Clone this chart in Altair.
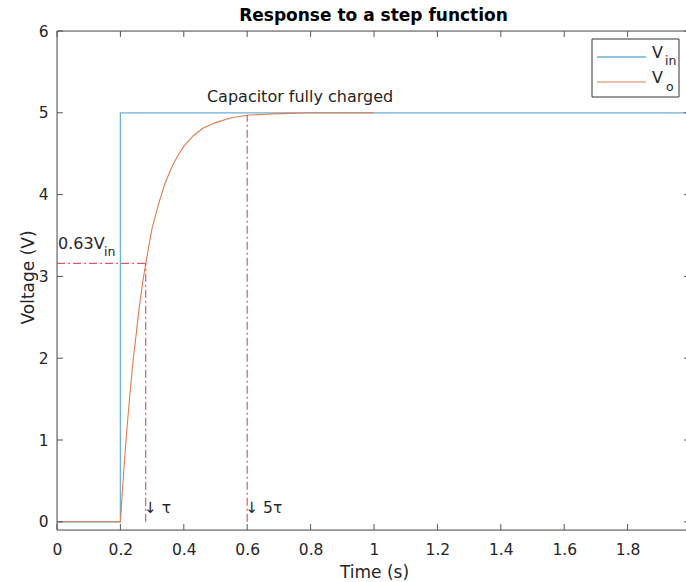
import altair as alt
import pandas as pd

# Input step (V_in)
vin_t = [0.0, 0.2, 0.2, 2.0]
vin_v = [0.0, 0.0, 5.0, 5.0]

# Capacitor voltage (V_o)
vo_t = [0.0, 0.2, 0.21, 0.22, 0.23, 0.24, 0.25, 0.26, 0.27, 0.28, 0.30, 0.32, 0.34,
        0.36, 0.38, 0.40, 0.43, 0.46, 0.50, 0.55, 0.60, 0.65, 0.70, 0.80, 0.90, 1.00]
vo_v = [0.0, 0.0, 0.59, 1.11, 1.56, 1.97, 2.30, 2.64, 2.92, 3.16, 3.59, 3.88, 4.13,
        4.32, 4.47, 4.59, 4.72, 4.81, 4.88, 4.94, 4.97, 4.98, 4.99, 5.0, 5.0, 5.0]

# Time-constant markers
marker_t = [0.28, 0.60]
marker_top = [3.16, 4.97]
marker_label = ["\u2193 \u03c4", "\u2193 5\u03c4"]
level_63 = 3.16

x_ticks = [0, 0.2, 0.4, 0.6, 0.8, 1.0, 1.2, 1.4, 1.6, 1.8]
y_ticks = [0, 1, 2, 3, 4, 5, 6]

FONT = "DejaVu Sans"
W, H = 629, 499
X_DOM = [0, 1.9842]
Y_DOM = [-0.1, 6]
AX = "#555555"
TXT = "#262626"
BLUE = "#6fb0d5"
ORANGE = "#e07c50"
RED = "#e6304f"
DASHDOT = [8, 3, 2, 3]
TICK = 6

vin = pd.DataFrame({"t": vin_t, "v": vin_v, "i": range(len(vin_t))})
vo = pd.DataFrame({"t": vo_t, "v": vo_v, "i": range(len(vo_t))})
markers = pd.DataFrame({"t": marker_t, "top": marker_top, "bottom": [0.0, 0.0],
                        "label": marker_label, "ly": [0.11, 0.11]})
hline = pd.DataFrame({"t0": [0.0], "t1": [marker_t[0]], "v": [level_63]})
xt = pd.DataFrame({"t": x_ticks})
yt = pd.DataFrame({"v": y_ticks})

xs = alt.Scale(domain=X_DOM, nice=False, zero=False)
ys = alt.Scale(domain=Y_DOM, nice=False, zero=False)

# Labelled axes (left / bottom); the box and its inward ticks are drawn as rules
x_lab = alt.Axis(orient="bottom", values=x_ticks, format="~g", grid=False, ticks=False,
                 tickSize=0, domain=False, labelPadding=24, labelBaseline="alphabetic",
                 labelFlush=False, labelFontSize=15.5, labelFont=FONT, labelColor=TXT,
                 title="Time (s)", titleFont=FONT, titleFontSize=17,
                 titleFontWeight="normal", titleColor=TXT, titleX=317, titleY=47,
                 titleBaseline="alphabetic", titleAlign="center")
y_lab = alt.Axis(orient="left", values=y_ticks, format="~g", grid=False, ticks=False,
                 tickSize=0, domain=False, labelPadding=9, labelFontSize=15.5,
                 labelFlush=False, labelFont=FONT, labelColor=TXT,
                 title="Voltage (V)", titleFont=FONT, titleFontSize=17,
                 titleFontWeight="normal", titleColor=TXT, titleX=-24, titleY=246,
                 titleBaseline="alphabetic", titleAlign="center", titleAngle=270)

X = lambda f, **k: alt.X(f, scale=xs, axis=None, **k)
Y = lambda f, **k: alt.Y(f, scale=ys, axis=None, **k)

# Box lines (left, bottom, top)
box = alt.Chart(xt.head(1)).mark_rule(color=AX, strokeWidth=1)
box_left = box.encode(x=alt.value(0), y=alt.value(0), y2=alt.value(H))
box_bottom = box.encode(x=alt.value(0), x2=alt.value(W), y=alt.value(H))
box_top = box.encode(x=alt.value(0), x2=alt.value(W), y=alt.value(0))

# Inward tick marks on all four sides
tx = alt.Chart(xt).mark_rule(color=AX, strokeWidth=1)
ticks_bottom = tx.encode(x=X("t:Q"), y=alt.value(H), y2=alt.value(H - TICK))
ticks_top = tx.encode(x=X("t:Q"), y=alt.value(0), y2=alt.value(TICK))
ty = alt.Chart(yt).mark_rule(color=AX, strokeWidth=1)
ticks_left = ty.encode(y=Y("v:Q"), x=alt.value(0), x2=alt.value(TICK))
ticks_right = ty.encode(y=Y("v:Q"), x=alt.value(W - 2), x2=alt.value(W))

vin_line = alt.Chart(vin).mark_line(color=BLUE, strokeWidth=1.3, clip=True).encode(
    x=alt.X("t:Q", scale=xs, axis=x_lab),
    y=alt.Y("v:Q", scale=ys, axis=y_lab),
    order="i:Q",
)

vo_line = alt.Chart(vo).mark_line(color=ORANGE, strokeWidth=1.1, clip=True).encode(
    x=X("t:Q"), y=Y("v:Q"), order="i:Q",
)

vrules = alt.Chart(markers).mark_rule(color=RED, strokeWidth=1, strokeDash=DASHDOT).encode(
    x=X("t:Q"), y=Y("bottom:Q"), y2="top:Q",
)

hrule = alt.Chart(hline).mark_rule(color=RED, strokeWidth=1, strokeDash=DASHDOT).encode(
    x=X("t0:Q"), x2="t1:Q", y=Y("v:Q"),
)

marker_text = alt.Chart(markers).mark_text(
    align="left", baseline="alphabetic", font=FONT, fontSize=15.5, color=TXT, dx=-2
).encode(x=X("t:Q"), y=Y("ly:Q"), text="label:N")

notes = pd.DataFrame({
    "t": [0.473, 0.0, 0.0],
    "v": [5.13, 3.33, 3.33],
    "txt": ["Capacitor fully charged", "0.63V", "in"],
    "size": [16, 16, 12.5],
    "dx": [0, 1, 47],
    "dy": [0, 0, 7],
})


def note(row):
    r = notes.iloc[row]
    return alt.Chart(notes.iloc[[row]]).mark_text(
        align="left", baseline="alphabetic", font=FONT, fontSize=float(r["size"]),
        color=TXT, dx=int(r["dx"]), dy=int(r["dy"])
    ).encode(x=X("t:Q"), y=Y("v:Q"), text="txt:N")


# Legend box (top right)
one = pd.DataFrame({"k": [0]})
leg_box = alt.Chart(one).mark_rect(fill="white", stroke="#333333", strokeWidth=1).encode(
    x=alt.value(535), x2=alt.value(622), y=alt.value(8), y2=alt.value(66)
)
leg_vin = alt.Chart(one).mark_rule(color=BLUE, strokeWidth=1.3).encode(
    x=alt.value(540), x2=alt.value(589), y=alt.value(26)
)
leg_vo = alt.Chart(one).mark_rule(color=ORANGE, strokeWidth=1.1).encode(
    x=alt.value(540), x2=alt.value(589), y=alt.value(51)
)


def leg_text(s, x, y, size):
    return alt.Chart(one).mark_text(
        text=s, align="left", baseline="alphabetic", font=FONT, fontSize=size, color=TXT
    ).encode(x=alt.value(x), y=alt.value(y))


legend = (leg_box + leg_vin + leg_vo
          + leg_text("V", 595, 27, 16) + leg_text("in", 608, 34, 12.5)
          + leg_text("V", 595, 52, 16) + leg_text("o", 609, 60, 12.5))

chart = alt.layer(
    vin_line, vo_line, vrules, hrule, marker_text,
    note(0), note(1), note(2),
    box_left, box_bottom, box_top,
    ticks_bottom, ticks_top, ticks_left, ticks_right,
    legend,
).resolve_axis(x="independent", y="independent").properties(
    width=W,
    height=H,
    title=alt.TitleParams("Response to a step function", font=FONT, fontSize=17,
                          fontWeight="bold", color="black", anchor="middle",
                          offset=-1, dx=2),
    autosize=alt.AutoSizeParams(type="none"),
    padding={"left": 57, "top": 31, "right": 0, "bottom": 52},
).configure_view(stroke="transparent").configure(background="white")

chart.save("out.html", embed_options={"renderer": "svg", "actions": False})
